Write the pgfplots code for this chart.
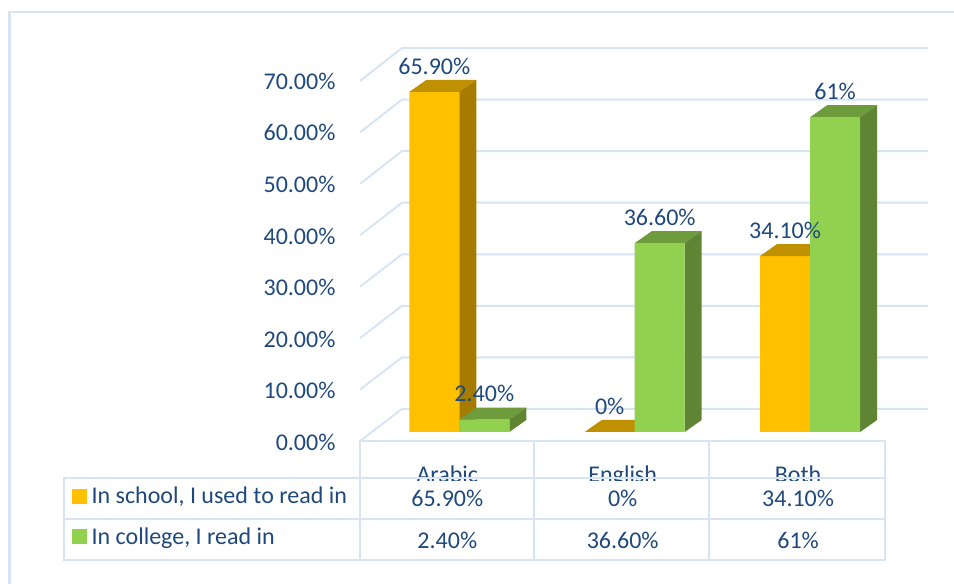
\documentclass[border=0pt]{standalone}
\usepackage{fontspec}
\usepackage{pgfplots}
\usepackage{pgfplotstable}
\pgfplotsset{compat=1.18}
\setmainfont{Carlito}

\definecolor{ink}{HTML}{1F497D}
\definecolor{rule}{HTML}{D6E4F4}
\definecolor{schoolFront}{HTML}{FFC000}
\definecolor{schoolTop}{HTML}{BF9000}
\definecolor{schoolSide}{HTML}{A67C00}
\definecolor{collegeFront}{HTML}{92D050}
\definecolor{collegeTop}{HTML}{6E9C3C}
\definecolor{collegeSide}{HTML}{5F8434}

\newcommand\lab{\fontsize{24}{27}\selectfont}

% picture pixels to axis coordinates: 175.4 px per category, 5.16 px per percent
\newcommand\pix[2]{(axis cs:\fpeval{(#1-459.3)/175.4},\fpeval{(432-(#2))/5.16})}

% top and side face of a bar: left edge of the front face, value, side, top
\newcommand\faces[4]{%
  \pgfmathsetmacro\xa{#1}%
  \pgfmathsetmacro\xb{#1+0.2851}%
  \pgfmathsetmacro\xc{#1+0.2851+0.0969}%
  \pgfmathsetmacro\xd{#1+0.0969}%
  \pgfmathsetmacro\vt{#2+2.326}%
  \addplot[fill=#4,draw=none,forget plot] coordinates {(\xa,#2) (\xb,#2) (\xc,\vt) (\xd,\vt)} --cycle;
  \addplot[fill=#3,draw=none,forget plot] coordinates {(\xb,0) (\xb,#2) (\xc,\vt) (\xc,2.326)} --cycle;
}

\pgfplotstableread{
x school college
0 65.9   2.4
1 0      36.6
2 34.1   61
}\shares

\begin{document}
\begin{tikzpicture}
\begin{axis}[
    set layers=standard,
    scale only axis,
    width=954pt, height=584pt,
    xmin=-2.6186, xmax=2.8204,
    ymin=-29.457, ymax=83.721,
    axis line style={draw=none},
    tick style={draw=none},
    xtick={0,1,2},
    xticklabels={Arabic,English,Both},
    x tick label style={anchor=base, xshift=-12pt, yshift=101.5pt},
    ytick={0,10,...,70},
    yticklabel={\pgfmathprintnumber[fixed,fixed zerofill,precision=2]{\tick}\%},
    y tick label style={anchor=east, xshift=339pt, yshift=-10.5pt},
    /pgf/number format/assume math mode=true,
    tick label style={font=\lab, text=ink},
    legend style={at={(65/954,1-485/584)}, anchor=north west, draw=none, fill=none,
      font=\lab, text=ink, row sep=18pt, inner sep=0pt},
    legend cell align=left,
    nodes near coords style={font=\lab, text=ink, anchor=center},
]
\addlegendimage{legend image code/.code={\path (0pt,0pt) (24pt,0pt); \fill[schoolFront] (7pt,-6.5pt) rectangle (21pt,7.5pt);}}
\addlegendentry{In school, I used to read in}
\addlegendimage{legend image code/.code={\path (0pt,0pt) (24pt,0pt); \fill[collegeFront] (7pt,-6.5pt) rectangle (21pt,7.5pt);}}
\addlegendentry{In college, I read in}

% walls and floor
\pgfplotsinvokeforeach{0,1,...,7}{
  \draw[rule, line width=2pt] \pix{360}{441-51.43*#1} -- \pix{402}{409-51.57*#1} -- \pix{928}{409-51.57*#1};
}

% bars
\addplot[ybar, bar width=50pt, bar shift=-25pt, fill=schoolFront, draw=none, forget plot] table[x=x,y=school] {\shares};
\faces{-0.2851}{65.9}{schoolSide}{schoolTop}
\faces{0.7149}{0}{schoolSide}{schoolTop}
\faces{1.7149}{34.1}{schoolSide}{schoolTop}
\faces{0}{2.4}{collegeSide}{collegeTop}
\faces{1}{36.6}{collegeSide}{collegeTop}
\faces{2}{61}{collegeSide}{collegeTop}
\addplot[ybar, bar width=50pt, bar shift=25pt, fill=collegeFront, draw=none, forget plot] table[x=x,y=college] {\shares};

% data labels
\addplot[draw=none, mark=none, forget plot, point meta=explicit symbolic, nodes near coords,
    every node near coord/.append style={xshift=-25pt, yshift=26pt}]
  coordinates {(0,65.9)[65.90\%] (1,0)[0\%] (2,34.1)[34.10\%]};
\addplot[draw=none, mark=none, forget plot, point meta=explicit symbolic, nodes near coords,
    every node near coord/.append style={xshift=25pt, yshift=26pt}]
  coordinates {(0,2.4)[2.40\%] (1,36.6)[36.60\%] (2,61)[61\%]};

% data table
\fill[white] \pix{361}{481} rectangle \pix{884}{560};
\draw[rule, line width=2.4pt] \pix{360}{441} -- \pix{885}{441};
\draw[rule, line width=2.4pt] \pix{64}{478} -- \pix{885}{478};
\draw[rule, line width=2.4pt] \pix{64}{519} -- \pix{885}{519};
\draw[rule, line width=2.4pt] \pix{64}{560} -- \pix{885}{560};
\draw[rule, line width=2.4pt] \pix{64}{477} -- \pix{64}{561};
\draw[rule, line width=2.4pt] \pix{360}{440} -- \pix{360}{561};
\draw[rule, line width=2.4pt] \pix{534}{440} -- \pix{534}{561};
\draw[rule, line width=2.4pt] \pix{709}{440} -- \pix{709}{561};
\draw[rule, line width=2.4pt] \pix{885}{440} -- \pix{885}{561};
\addplot[draw=none, mark=none, forget plot, point meta=explicit symbolic, nodes near coords,
    every node near coord/.append style={xshift=-12pt}]
  coordinates {(0,-12.79)[65.90\%] (1,-12.79)[0\%] (2,-12.79)[34.10\%]};
\addplot[draw=none, mark=none, forget plot, point meta=explicit symbolic, nodes near coords,
    every node near coord/.append style={xshift=-12pt}]
  coordinates {(0,-20.93)[2.40\%] (1,-20.93)[36.60\%] (2,-20.93)[61\%]};

% outer frame
\draw[rule, line width=2.5pt] \pix{9.5}{584} -- \pix{9.5}{12} -- \pix{954}{12};
\end{axis}
\end{tikzpicture}
\end{document}
